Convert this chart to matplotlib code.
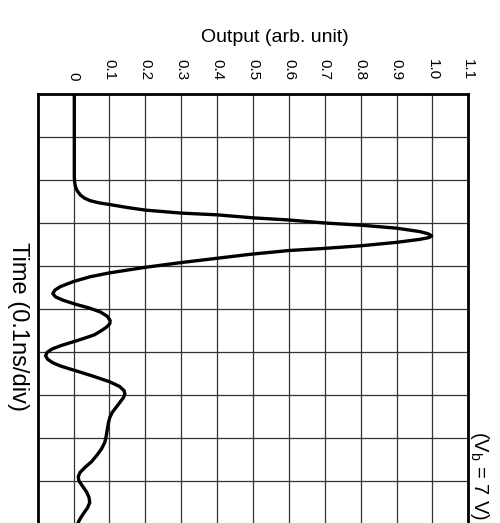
import matplotlib
matplotlib.use("Agg")
import matplotlib.pyplot as plt

plt.rcParams['font.family'] = ['Liberation Sans', 'DejaVu Sans']
plt.rcParams['mathtext.default'] = 'regular'

# output axis ticks
out_ticks = [0, 0.1, 0.2, 0.3, 0.4, 0.5, 0.6, 0.7, 0.8, 0.9, 1.0, 1.1]
out_labels = ["0", "0.1", "0.2", "0.3", "0.4", "0.5", "0.6", "0.7", "0.8", "0.9", "1.0", "1.1"]
time_divs = [0, 1, 2, 3, 4, 5, 6, 7, 8, 9, 10]

# pulse trace (time in divisions, output in arb. unit)
t = [0, 1.95, 2.05, 2.15, 2.25, 2.35, 2.42, 2.48, 2.53, 2.57, 2.64, 2.70, 2.77,
     2.81, 2.88, 2.93, 3.00, 3.05, 3.12, 3.20, 3.25, 3.30, 3.34, 3.38, 3.45,
     3.53, 3.59, 3.64, 3.73, 3.82, 3.92, 4.03, 4.16, 4.25, 4.36, 4.48, 4.56,
     4.64, 4.72, 4.80, 4.90, 4.98, 5.07, 5.17, 5.27, 5.34, 5.42, 5.50, 5.60,
     5.68, 5.76, 5.85, 5.93, 6.01, 6.09, 6.17, 6.25, 6.33, 6.42, 6.55, 6.69,
     6.80, 6.90, 6.98, 7.06, 7.16, 7.27, 7.40, 7.52, 7.65, 7.80, 7.95, 8.10,
     8.25, 8.40, 8.55, 8.68, 8.80, 8.90, 9.00, 9.12, 9.25, 9.38, 9.50, 9.62,
     9.75, 9.88, 9.98, 10.05]
v = [0.002, 0.002, 0.003, 0.005, 0.010, 0.019, 0.030, 0.046, 0.070, 0.100, 0.150,
     0.200, 0.300, 0.400, 0.500, 0.600, 0.700, 0.800, 0.900, 0.965, 0.988, 0.998,
     0.990, 0.965, 0.900, 0.800, 0.700, 0.600, 0.490, 0.400, 0.300, 0.200, 0.100,
     0.046, 0.000, -0.037, -0.052, -0.058, -0.050, -0.028, 0.010, 0.045, 0.075,
     0.094, 0.102, 0.101, 0.092, 0.078, 0.058, 0.030, 0.000, -0.035, -0.060,
     -0.074, -0.078, -0.072, -0.058, -0.035, 0.000, 0.050, 0.100, 0.128, 0.141,
     0.143, 0.139, 0.130, 0.120, 0.108, 0.101, 0.097, 0.094, 0.091, 0.087, 0.078,
     0.065, 0.050, 0.032, 0.018, 0.013, 0.015, 0.025, 0.036, 0.043, 0.045, 0.039,
     0.028, 0.018, 0.012, 0.008]

fig = plt.figure(figsize=(5, 5.23), dpi=100)
ax = fig.add_axes([0.0754, -0.002, 0.8612, 0.8223])

ax.plot(v, t, color='black', lw=2.4, solid_capstyle='round',
        solid_joinstyle='round', zorder=3)

ax.set_xlim(-0.1, 1.1)
ax.set_ylim(10, 0)
ax.xaxis.tick_top()
ax.set_xticks(out_ticks)
ax.set_xticklabels(out_labels, rotation=-90, fontsize=11)
ax.set_yticks(time_divs)
ax.set_yticklabels([])
ax.tick_params(axis='both', length=0)
ax.tick_params(axis='x', pad=10)
ax.grid(True, color='#333333', lw=0.9)
ax.set_axisbelow(True)
for s in ax.spines.values():
    s.set_linewidth(2)

fig.text(275 / 500, 1 - 38 / 523, "Output (arb. unit)", fontsize=14,
         ha='center', va='center')
fig.text(18 / 500, 1 - 327 / 523, "Time (0.1ns/div)", fontsize=17,
         rotation=-90, ha='center', va='center')
fig.text(479 / 500, 1 - 431 / 523, "(V$_b$ = 7 V)", fontsize=14.5,
         rotation=-90, ha='center', va='top')

fig.savefig("out.png", dpi=100)
